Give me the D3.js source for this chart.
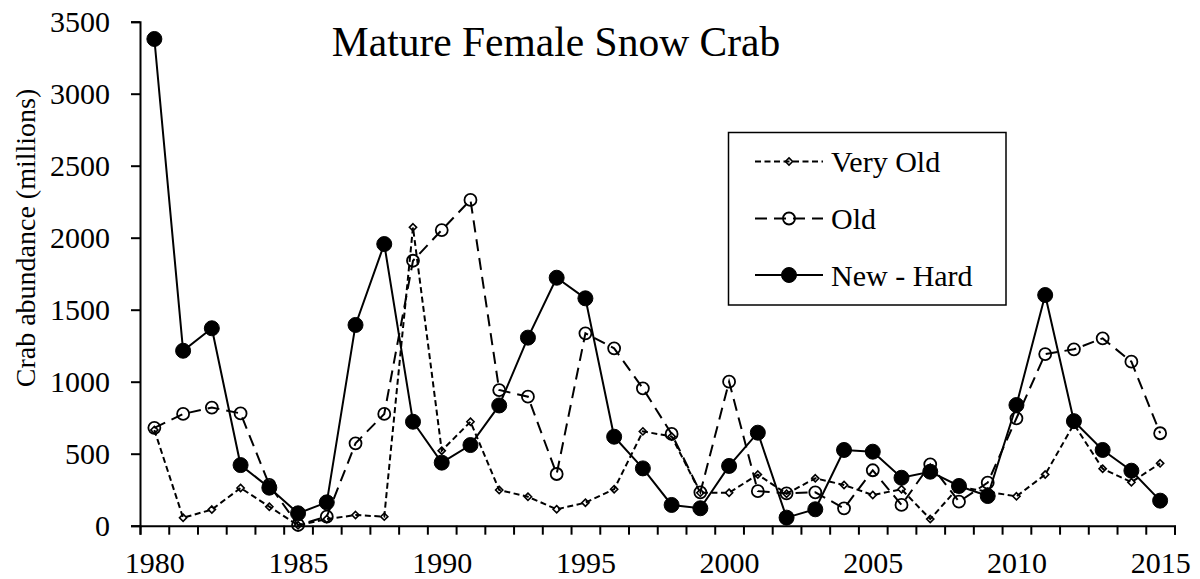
<!DOCTYPE html>
<html>
<head>
<meta charset="utf-8">
<script src="https://cdn.jsdelivr.net/npm/d3@7/dist/d3.min.js"></script>
<style>
  html, body { margin: 0; padding: 0; background: #fff; }
  svg { display: block; }
  text { font-family: "Liberation Serif", "Times New Roman", serif; fill: #000; }
</style>
</head>
<body>
<svg id="chart" width="1200" height="579"></svg>
<script>
// Survey years and abundance estimates (millions) by shell condition
const years = d3.range(1980, 2016);
const veryOld = [665, 55, 112, 262, 132, 3, 46, 74, 63, 2072, 521, 722, 248, 201, 114, 160, 253, 655,
                 620, 228, 229, 355, 222, 329, 283, 213, 253, 46, 270, 236, 204, 355, 705, 396, 302, 433];
const old = [680, 776, 820, 780, 283, 5, 63, 572, 776, 1840, 2053, 2262, 942, 896, 359, 1336, 1232, 954,
             637, 232, 1000, 240, 225, 232, 121, 385, 144, 426, 167, 299, 746, 1192, 1225, 1301, 1139, 642];
const newHard = [3380, 1215, 1371, 421, 264, 86, 162, 1394, 1956, 722, 438, 560, 835, 1306, 1722, 1579, 618, 398,
                 144, 121, 415, 646, 56, 114, 526, 514, 333, 375, 276, 206, 838, 1602, 726, 526, 382, 174];
const yTicks = [0, 500, 1000, 1500, 2000, 2500, 3000, 3500];
const xLabels = [1980, 1985, 1990, 1995, 2000, 2005, 2010, 2015];
const seriesNames = ["Very Old", "Old", "New - Hard"];

const svg = d3.select("#chart");

// Category-style axis: each year sits in the middle of a one-year slot
const x = d3.scaleLinear().domain([1979.5, 2015.5]).range([140, 1174.5]);
const y = d3.scaleLinear().domain([0, 3500]).range([525.7, 21.7]);

const series = [
  { name: seriesNames[0], values: veryOld, dash: "6,3.5", marker: "diamond" },
  { name: seriesNames[1], values: old, dash: "12,7", marker: "open" },
  { name: seriesNames[2], values: newHard, dash: null, marker: "filled" }
];

// Axes
const yAxis = d3.axisLeft(y).tickValues(yTicks).tickSize(9).tickPadding(21).tickFormat(d3.format("d"));
const gy = svg.append("g").attr("transform", `translate(${x.range()[0]},0)`).call(yAxis);
gy.select(".domain").attr("stroke", "#000").attr("stroke-width", 2);
gy.selectAll(".tick line").attr("stroke", "#000").attr("stroke-width", 2);
gy.selectAll(".tick text").attr("font-size", 30).attr("font-family", "Liberation Serif");

const gxTicks = svg.append("g").attr("transform", `translate(0,${y(0)})`)
  .call(d3.axisBottom(x).tickValues(d3.range(1979.5, 2016, 1)).tickSize(9).tickFormat(""));
gxTicks.select(".domain").attr("stroke", "#000").attr("stroke-width", 2);
gxTicks.selectAll(".tick line").attr("stroke", "#000").attr("stroke-width", 2);

const gxLabels = svg.append("g").attr("transform", `translate(0,${y(0)})`)
  .call(d3.axisBottom(x).tickValues(xLabels).tickSize(0).tickPadding(26).tickFormat(d3.format("d")));
gxLabels.select(".domain").remove();
gxLabels.selectAll(".tick text").attr("font-size", 30).attr("font-family", "Liberation Serif");

// Axis title
svg.append("text")
  .attr("transform", "translate(35,238) rotate(-90)")
  .attr("text-anchor", "middle")
  .attr("font-size", 28)
  .text("Crab abundance (millions)");

// Chart title
svg.append("text")
  .attr("x", 556).attr("y", 56)
  .attr("text-anchor", "middle")
  .attr("font-size", 41.5)
  .text("Mature Female Snow Crab");

// Marker drawing helper
function drawMarker(g, type, cx, cy) {
  if (type === "filled") {
    g.append("circle").attr("cx", cx).attr("cy", cy).attr("r", 7.5)
      .attr("fill", "#000").attr("stroke", "#000").attr("stroke-width", 1);
  } else if (type === "open") {
    g.append("circle").attr("cx", cx).attr("cy", cy).attr("r", 6)
      .attr("fill", "none").attr("stroke", "#000").attr("stroke-width", 1.8);
  } else {
    const h = 3.6;
    g.append("path")
      .attr("d", `M${cx},${cy - h}L${cx + h},${cy}L${cx},${cy + h}L${cx - h},${cy}Z`)
      .attr("fill", "none").attr("stroke", "#000").attr("stroke-width", 1.6);
  }
}

const line = d3.line().x((d, i) => x(years[i])).y(d => y(d));

series.forEach(s => {
  const g = svg.append("g");
  g.append("path")
    .datum(s.values)
    .attr("d", line)
    .attr("fill", "none")
    .attr("stroke", "#000")
    .attr("stroke-width", 2)
    .attr("stroke-dasharray", s.dash);
  s.values.forEach((v, i) => drawMarker(g, s.marker, x(years[i]), y(v)));
});

// Legend
const legend = svg.append("g");
legend.append("rect")
  .attr("x", 728.5).attr("y", 132.5).attr("width", 277.5).attr("height", 172.5)
  .attr("fill", "#fff").attr("stroke", "#000").attr("stroke-width", 1.5);
const legendRows = [161.5, 218.5, 275];
series.forEach((s, i) => {
  const ly = legendRows[i];
  legend.append("line")
    .attr("x1", 755).attr("x2", 823).attr("y1", ly).attr("y2", ly)
    .attr("stroke", "#000").attr("stroke-width", 2)
    .attr("stroke-dasharray", s.dash);
  drawMarker(legend, s.marker, 789, ly);
  legend.append("text")
    .attr("x", 831).attr("y", ly + 10.5)
    .attr("font-size", 30)
    .text(s.name);
});
</script>
</body>
</html>
